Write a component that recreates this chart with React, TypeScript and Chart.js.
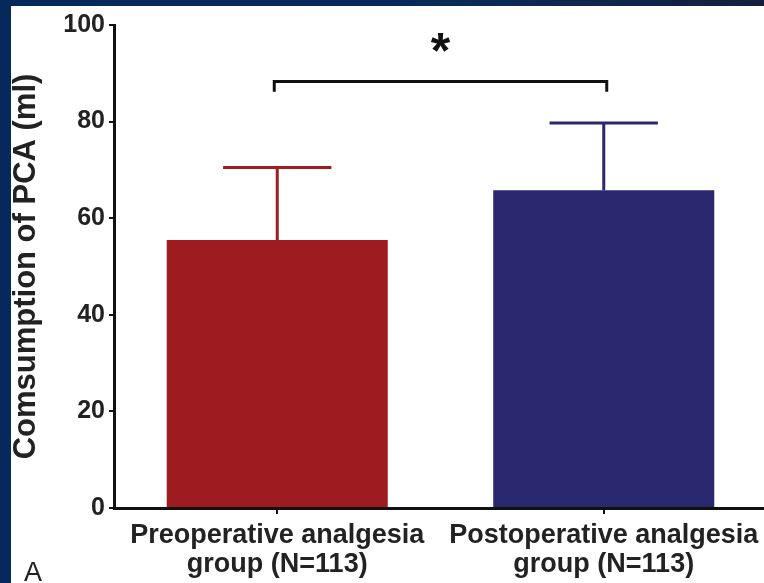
import React, { useEffect, useRef } from "react";
import { Chart, registerables } from "chart.js";

Chart.register(...registerables);

const categories = [
  ["Preoperative analgesia", "group (N=113)"],
  ["Postoperative analgesia", "group (N=113)"],
];
const means = [55.5, 65.8];
const sds = [15.0, 13.9];
const yMax = 100;
const yStep = 20;
const bracketLevel = 88.3;
const bracketDrop = 86.2;
const starLevel = 94;
const starText = "*";
const yTitle = "Comsumption of PCA (ml)";
const panelLabel = "A";

const barColors = ["#9e1c20", "#2a2970"];
const FONT = "'Liberation Sans', Arial, Helvetica, sans-serif";

const errorBarPlugin = {
  id: "errorBars",
  afterDatasetsDraw(chart: any) {
    const ctx = chart.ctx;
    const meta = chart.getDatasetMeta(0);
    const y = chart.scales.y;
    ctx.save();
    meta.data.forEach((el: any, i: number) => {
      const top = y.getPixelForValue(means[i] + sds[i]);
      const half = el.width * 0.245;
      ctx.strokeStyle = barColors[i];
      ctx.lineWidth = 3;
      ctx.beginPath();
      ctx.moveTo(el.x, el.y);
      ctx.lineTo(el.x, top);
      ctx.moveTo(el.x - half, top);
      ctx.lineTo(el.x + half, top);
      ctx.stroke();
    });
    // significance bracket
    const x0 = chart.scales.x.getPixelForValue(0) - 3;
    const x1 = chart.scales.x.getPixelForValue(1) + 3;
    const yb = y.getPixelForValue(bracketLevel);
    const yd = y.getPixelForValue(bracketDrop);
    ctx.strokeStyle = "#111";
    ctx.lineWidth = 3;
    ctx.lineJoin = "miter";
    ctx.beginPath();
    ctx.moveTo(x0, yd);
    ctx.lineTo(x0, yb);
    ctx.lineTo(x1, yb);
    ctx.lineTo(x1, yd);
    ctx.stroke();
    ctx.fillStyle = "#111";
    ctx.font = `bold 50px ${FONT}`;
    ctx.textAlign = "center";
    ctx.textBaseline = "middle";
    ctx.fillText(starText, (x0 + x1) / 2, y.getPixelForValue(starLevel));
    ctx.restore();
  },
};

export default function App() {
  const ref = useRef<HTMLCanvasElement>(null);
  useEffect(() => {
    if (!ref.current) return;
    const chart = new Chart(ref.current, {
      type: "bar",
      data: {
        labels: categories,
        datasets: [
          {
            data: means,
            backgroundColor: barColors,
            borderWidth: 0,
            categoryPercentage: 1,
            barPercentage: 0.677,
          },
        ],
      },
      options: {
        animation: false,
        responsive: false,
        devicePixelRatio: 1,
        layout: { padding: { top: 16, right: 4, left: 0, bottom: 0 } },
        plugins: { legend: { display: false }, tooltip: { enabled: false } },
        scales: {
          x: {
            grid: {
              display: true,
              offset: false,
              drawOnChartArea: false,
              drawTicks: true,
              tickLength: 6,
              color: "#111",
              lineWidth: 2,
            },
            border: { color: "#111", width: 3 },
            ticks: {
              color: "#222",
              font: { family: FONT, size: 27, weight: "bold", lineHeight: 1.08 },
              padding: 7,
              maxRotation: 0,
              minRotation: 0,
              autoSkip: false,
            },
            afterFit(scale: any) {
              scale.height = 75;
            },
          },
          y: {
            min: 0,
            max: yMax,
            grid: {
              display: true,
              drawOnChartArea: false,
              drawTicks: true,
              tickLength: 5,
              color: "#111",
              lineWidth: 2,
            },
            border: { color: "#111", width: 3 },
            ticks: {
              stepSize: yStep,
              color: "#222",
              font: { family: FONT, size: 25, weight: "bold" },
              padding: 4,
            },
            title: {
              display: true,
              text: yTitle,
              color: "#222",
              font: { family: FONT, size: 31, weight: "bold", lineHeight: 1 },
              padding: { top: 0, bottom: 0 },
            },
            afterFit(scale: any) {
              scale.width = 103;
            },
          },
        },
      },
      plugins: [errorBarPlugin],
    });
    return () => chart.destroy();
  }, []);

  return (
    <div
      style={{
        position: "absolute",
        left: 0,
        top: 0,
        width: 764,
        height: 583,
        overflow: "hidden",
        background: "linear-gradient(90deg, #04295a 0%, #0a2a58 60%, #141f3f 100%)",
      }}
    >
      <div
        style={{
          position: "absolute",
          left: 11,
          top: 6,
          width: 760,
          height: 577,
          background: "#ffffff",
        }}
      >
        <canvas ref={ref} width={760} height={577} style={{ display: "block" }} />
        <div
          style={{
            position: "absolute",
            left: 13,
            top: 552,
            fontFamily: FONT,
            fontSize: 27,
            color: "#222",
            lineHeight: "28px",
          }}
        >
          {panelLabel}
        </div>
      </div>
    </div>
  );
}
